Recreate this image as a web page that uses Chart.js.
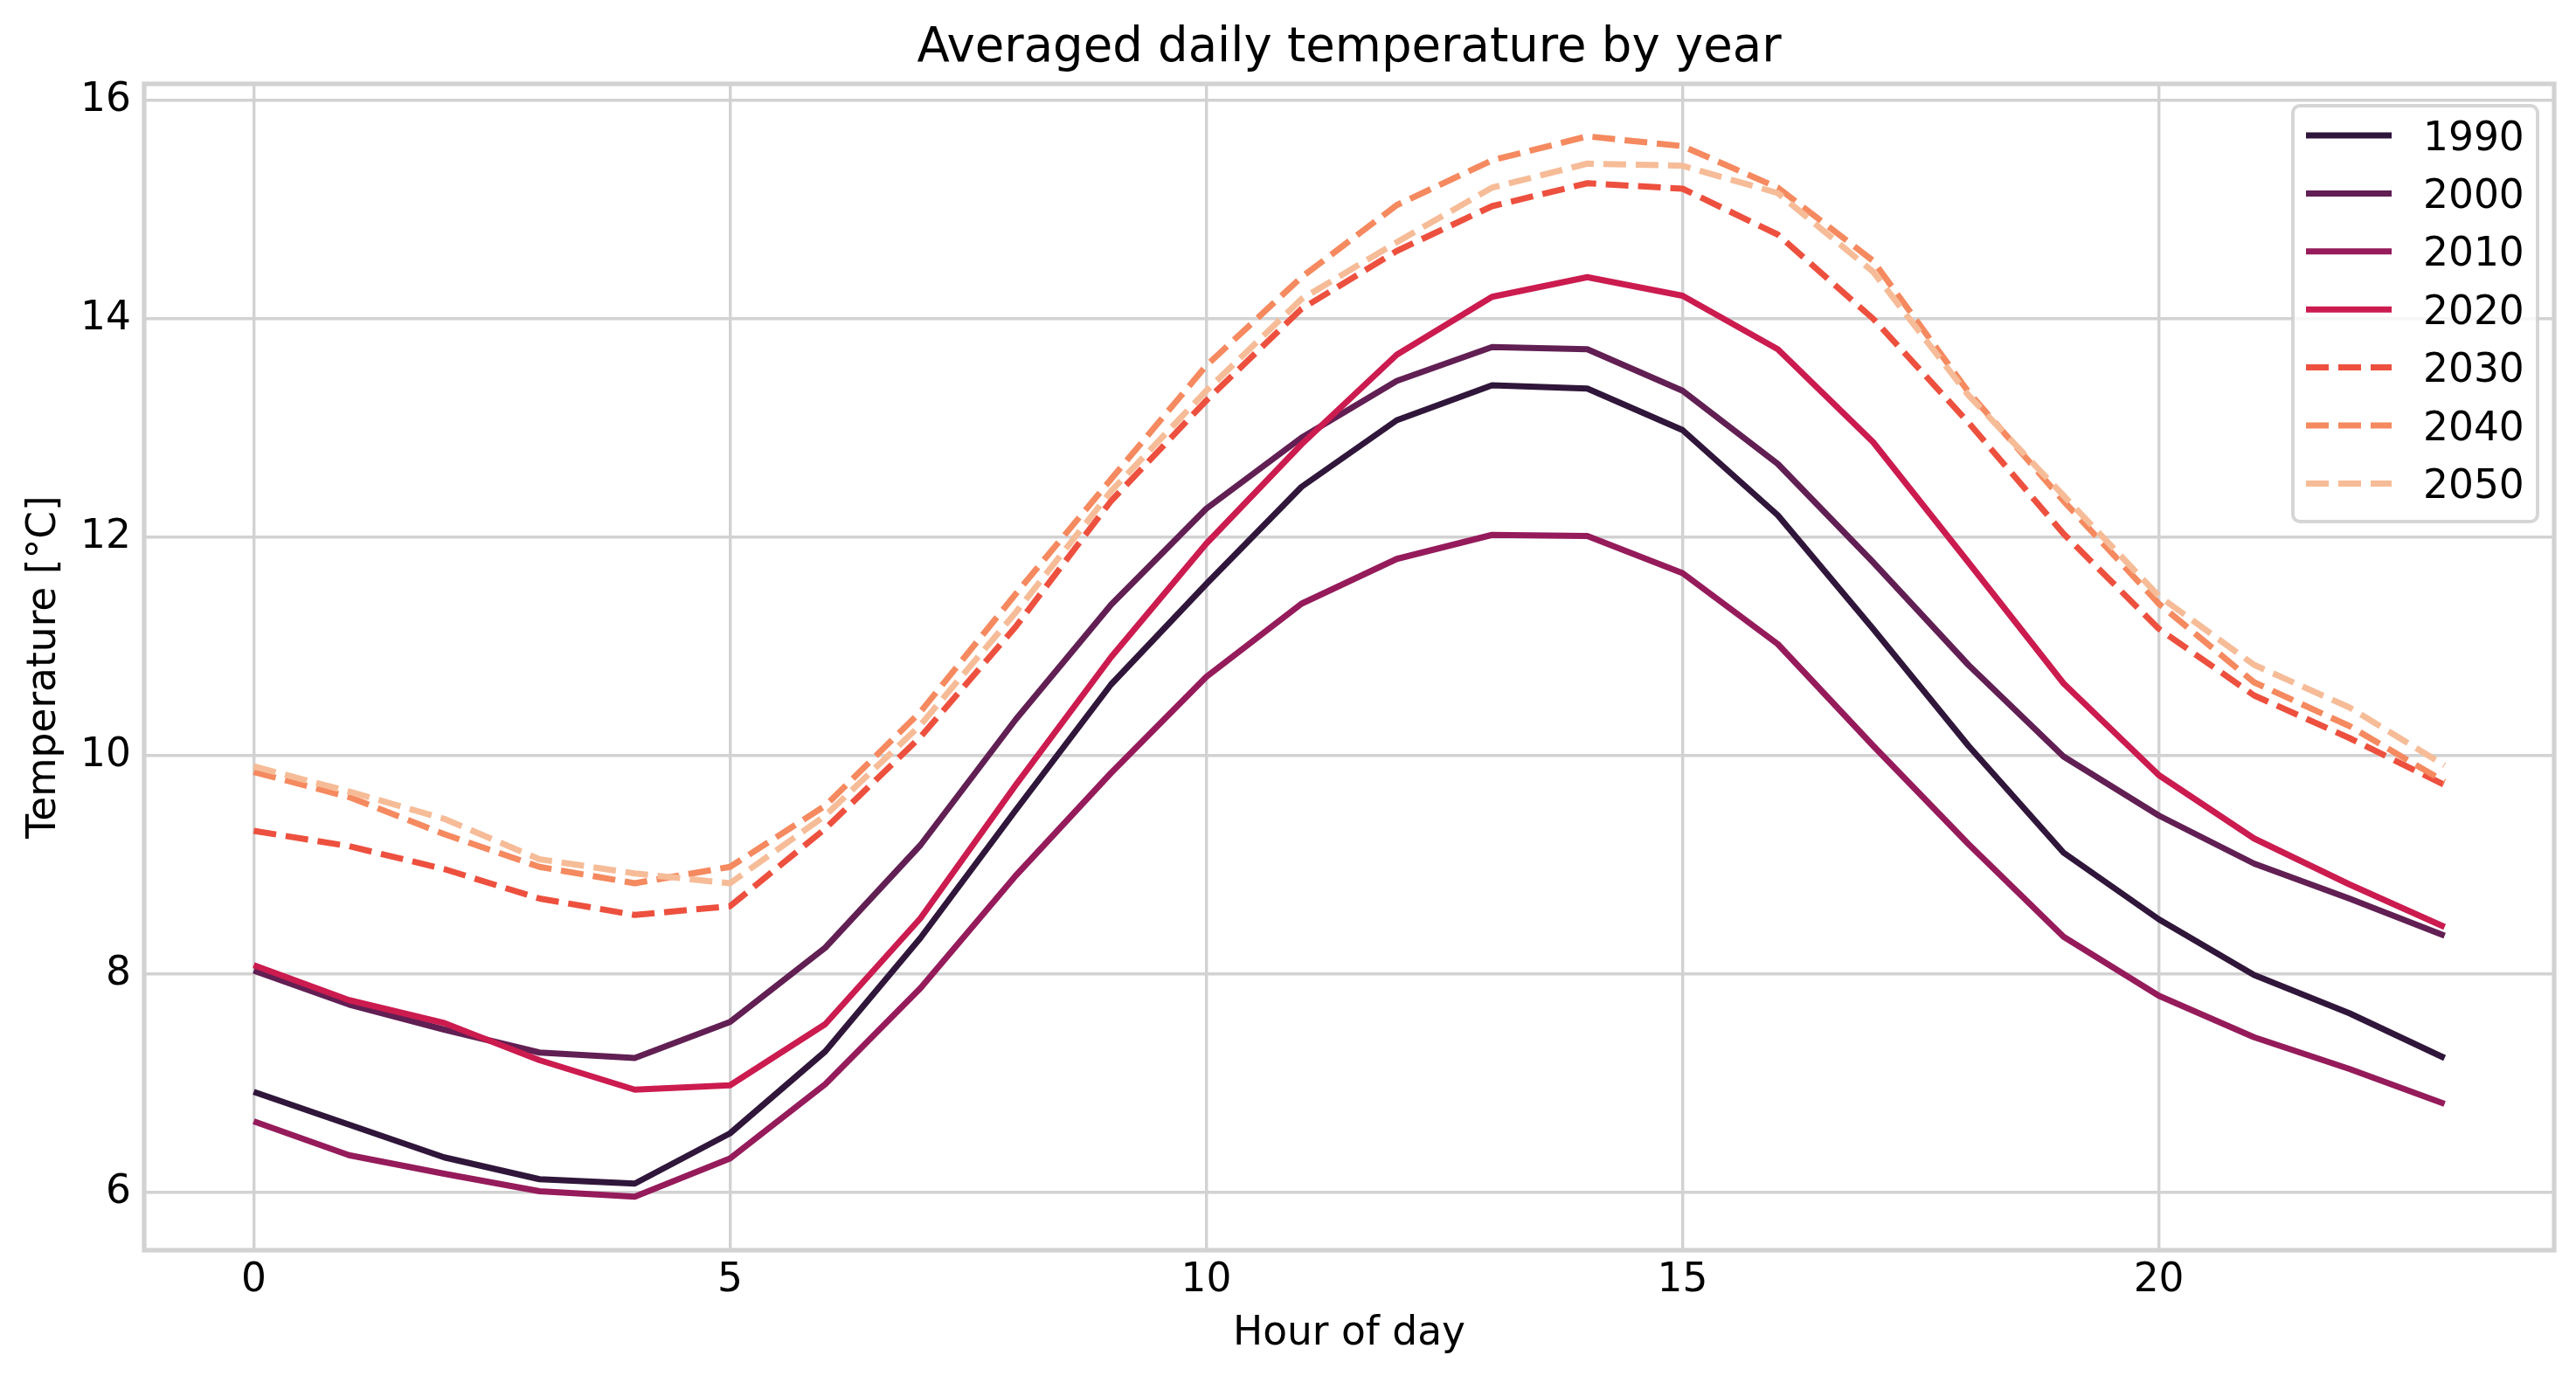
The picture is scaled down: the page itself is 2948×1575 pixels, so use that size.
<!DOCTYPE html>
<html>
<head>
<meta charset="utf-8">
<script src="https://cdn.jsdelivr.net/npm/chart.js@4.4.1/dist/chart.umd.min.js"></script>
<style>
  html, body { margin: 0; padding: 0; background: #fff; }
  #wrap { width: 2948px; height: 1575px; }
</style>
</head>
<body>
<div id="wrap"><canvas id="chart" width="2948" height="1575"></canvas></div>
<script>
// hour of day on x
const hours = [0, 1, 2, 3, 4, 5, 6, 7, 8, 9, 10, 11, 12, 13, 14, 15, 16, 17, 18, 19, 20, 21, 22, 23];
const xTicks = [0, 5, 10, 15, 20];
const yTicks = [6, 8, 10, 12, 14, 16];

const years = ['1990', '2000', '2010', '2020', '2030', '2040', '2050'];
const t1990 = [6.92, 6.62, 6.32, 6.12, 6.08, 6.54, 7.29, 8.33, 9.50, 10.65, 11.57, 12.46, 13.07, 13.39, 13.36, 12.98, 12.20, 11.16, 10.09, 9.11, 8.50, 7.99, 7.64, 7.23];
const t2000 = [8.03, 7.72, 7.49, 7.28, 7.23, 7.56, 8.24, 9.18, 10.33, 11.38, 12.26, 12.91, 13.43, 13.74, 13.72, 13.34, 12.67, 11.77, 10.83, 9.99, 9.45, 9.01, 8.69, 8.35];
const t2010 = [6.65, 6.34, 6.17, 6.01, 5.96, 6.31, 6.99, 7.87, 8.90, 9.84, 10.72, 11.39, 11.80, 12.02, 12.01, 11.67, 11.02, 10.09, 9.19, 8.34, 7.80, 7.42, 7.13, 6.81];
const t2020 = [8.08, 7.76, 7.55, 7.21, 6.94, 6.98, 7.54, 8.51, 9.73, 10.90, 11.94, 12.85, 13.67, 14.20, 14.38, 14.21, 13.72, 12.87, 11.77, 10.66, 9.82, 9.24, 8.82, 8.43];
const t2030 = [9.31, 9.17, 8.96, 8.69, 8.54, 8.62, 9.33, 10.17, 11.18, 12.33, 13.25, 14.09, 14.62, 15.03, 15.24, 15.19, 14.77, 14.00, 13.05, 12.03, 11.16, 10.55, 10.16, 9.73];
const t2040 = [9.85, 9.62, 9.28, 8.98, 8.83, 8.98, 9.54, 10.40, 11.48, 12.53, 13.57, 14.38, 15.04, 15.45, 15.67, 15.58, 15.20, 14.53, 13.33, 12.33, 11.39, 10.67, 10.27, 9.76];
const t2050 = [9.90, 9.67, 9.42, 9.05, 8.92, 8.83, 9.45, 10.28, 11.31, 12.42, 13.34, 14.18, 14.70, 15.20, 15.42, 15.40, 15.15, 14.43, 13.30, 12.38, 11.46, 10.83, 10.44, 9.91];
const series = [t1990, t2000, t2010, t2020, t2030, t2040, t2050];

const colors = ['#30163a', '#611f53', '#951b5b', '#cb1b4f', '#ed503e', '#f5895f', '#f6bc98'];
const gridColor = '#d2d2d2';
const fontSize = 45.5;

Chart.defaults.font.family = '"DejaVu Sans", sans-serif';
Chart.defaults.color = '#000';

const datasets = years.map((yr, i) => ({
  label: yr,
  data: hours.map((h, j) => ({ x: h, y: series[i][j] })),
  borderColor: colors[i],
  borderWidth: 7,
  borderDash: i >= 4 ? [26, 11] : [],
  borderJoinStyle: 'round',
  pointRadius: 0,
  tension: 0,
  fill: false,
  order: years.length - i   // later years on top, like matplotlib
}));

// light grey frame round the plot area
const frame = {
  id: 'frame',
  afterDatasetsDraw(chart) {
    const { ctx, chartArea: a } = chart;
    ctx.save();
    ctx.strokeStyle = gridColor;
    ctx.lineWidth = 5.2;
    ctx.strokeRect(a.left, a.top, a.right - a.left, a.bottom - a.top);
    ctx.restore();
  }
};

// matplotlib-like legend inside the upper right corner
const legendBox = {
  id: 'legendBox',
  afterDraw(chart) {
    const { ctx, chartArea } = chart;
    const w = 280, h = 476, rowH = 66.4;
    const left = chartArea.right - 19 - w;
    const top = chartArea.top + 25;
    ctx.save();
    ctx.fillStyle = 'rgba(255,255,255,0.8)';
    ctx.strokeStyle = 'rgba(204,204,204,0.8)';
    ctx.lineWidth = 4;
    ctx.beginPath();
    ctx.roundRect(left, top, w, h, 8);
    ctx.fill();
    ctx.stroke();
    chart.data.datasets.forEach((ds, i) => {
      const y = top + 34 + i * rowH;
      ctx.strokeStyle = ds.borderColor;
      ctx.lineWidth = ds.borderWidth;
      ctx.setLineDash(ds.borderDash);
      ctx.beginPath();
      ctx.moveTo(left + 15, y);
      ctx.lineTo(left + 113, y);
      ctx.stroke();
      ctx.setLineDash([]);
      ctx.fillStyle = '#000';
      ctx.font = fontSize + 'px "DejaVu Sans"';
      ctx.textBaseline = 'alphabetic';
      ctx.fillText(ds.label, left + 149, y + 0.729 * fontSize / 2);
    });
    ctx.restore();
  }
};

new Chart(document.getElementById('chart'), {
  type: 'line',
  data: { datasets },
  plugins: [frame, legendBox],
  options: {
    responsive: false,
    animation: false,
    devicePixelRatio: 1,
    layout: { padding: { left: 0, right: 25, top: 0, bottom: 0 } },
    plugins: {
      legend: { display: false },
      tooltip: { enabled: false },
      title: {
        display: true,
        text: 'Averaged daily temperature by year',
        fullSize: false,
        color: '#000',
        font: { size: 54.5, weight: 'normal' },
        padding: { top: 23, bottom: 7.6 }
      }
    },
    scales: {
      x: {
        type: 'linear',
        min: -1.15,
        max: 24.15,
        afterBuildTicks: s => { s.ticks = xTicks.map(v => ({ value: v })); },
        afterFit: s => { s.height = 144; },
        grid: { color: gridColor, lineWidth: 3.4, drawTicks: false },
        border: { display: false },
        ticks: { padding: 8, maxRotation: 0, font: { size: fontSize }, color: '#000' },
        title: { display: true, text: 'Hour of day', color: '#000', font: { size: fontSize }, padding: { top: 0, bottom: 20.7 } }
      },
      y: {
        type: 'linear',
        min: 5.47,
        max: 16.15,
        afterBuildTicks: s => { s.ticks = yTicks.map(v => ({ value: v })); },
        afterFit: s => { s.width = 165; },
        grid: { color: gridColor, lineWidth: 3.4, drawTicks: false },
        border: { display: false },
        ticks: { padding: 15, font: { size: fontSize }, color: '#000' },
        title: { display: true, text: 'Temperature [°C]', color: '#000', font: { size: fontSize }, padding: { top: 23.7, bottom: 0 } }
      }
    }
  }
});
</script>
</body>
</html>
